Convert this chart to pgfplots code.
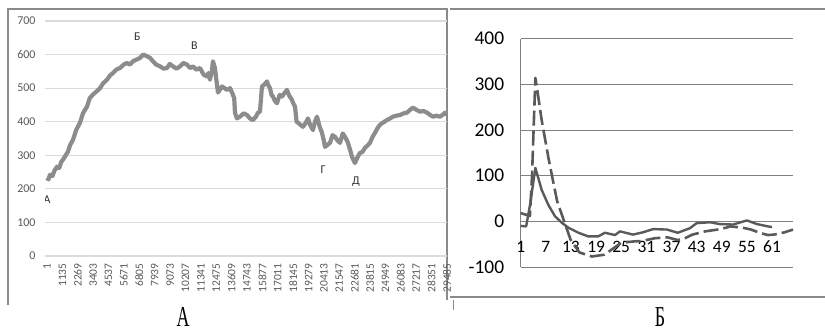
\documentclass[border=0pt]{standalone}
\usepackage{graphicx}
\usepackage{pgfplots}
\pgfplotsset{compat=1.18}
\usepackage{fontspec}
\setmainfont{Carlito}
\newfontfamily\serifcyr{Liberation Serif}
\definecolor{leftline}{HTML}{8C8C8C}
\definecolor{darkline}{HTML}{5A5A5A}
\definecolor{ticktext}{HTML}{595959}
\definecolor{framecol}{HTML}{8A8A8A}

\pgfplotstableread{
x y
1 233
110 228
222 242
400 238
560 255
738 266
900 262
1050 280
1180 287
1350 298
1549 311
1700 330
1917 346
2150 375
2433 397
2650 425
2949 445
3150 470
3391 481
3650 490
3907 500
4150 515
4423 525
4650 538
4865 545
5100 555
5381 560
5650 570
5897 575
6100 570
6339 580
6600 585
6855 590
7100 600
7371 595
7600 590
7813 580
8050 570
8329 565
8600 558
8845 560
9050 572
9287 565
9550 558
9803 565
10050 575
10319 570
10550 560
10761 565
11000 555
11277 560
11550 540
11793 535
11900 545
12014 525
12150 550
12235 580
12380 560
12530 510
12604 487
12900 505
13267 495
13500 500
13709 480
13800 470
13857 427
14000 410
14225 415
14500 425
14741 420
14950 410
15183 405
15400 415
15552 427
15700 430
15846 505
16000 510
16215 520
16300 510
16436 500
16550 480
16657 475
16800 462
16952 455
17150 480
17320 475
17500 485
17689 495
17850 478
18058 465
18150 455
18279 445
18400 400
18500 397
18700 390
18868 385
19050 395
19237 410
19400 390
19605 375
19750 400
19900 415
20100 385
20269 367
20400 345
20490 325
20650 330
20858 337
21050 360
21227 355
21400 345
21595 337
21800 365
21964 355
22100 345
22185 337
22350 315
22480 296
22600 285
22701 277
22900 295
23070 307
23250 310
23439 322
23650 330
23807 337
24000 355
24176 367
24350 380
24545 391
24800 398
25061 405
25300 410
25503 415
25750 418
26019 420
26300 425
26535 427
26750 435
26977 442
27250 435
27493 430
27750 432
28009 427
28250 420
28451 415
28700 418
28967 415
29150 420
29335 427
29485 420
}\leftdata

\pgfplotstableread{
x y
1 -10
2.3 -11
3.3 40
4.5 117
6 69
7.6 36
9.2 11
10.8 -3
12.4 -14
14.8 -25
17.1 -33
19.5 -33
21.1 -25
23.5 -30
24.7 -22
27.8 -29
30.2 -24
32.6 -17
35.9 -18
38.5 -25
41.4 -15
43 -4
46.2 -2
48.5 -6
51.7 -7
55 2
57.4 -6
60.5 -12
61 -12
}\solidseries

\pgfplotstableread{
x y
1 18
3.2 12
3.7 100
4.5 314
5 285
6 222
7.7 135
9.7 44
12.9 -40
15 -68
18 -77
21 -73
23 -60
25 -47
28 -44
30 -43
33 -37
36 -35
38.5 -41
40 -38
42 -29
45 -22
48 -18
50 -14
51 -11
54 -14
56 -18
58 -25
60 -30
61.5 -29
64 -24
66 -18
}\dashedseries

\begin{document}
\begin{tikzpicture}
\useasboundingbox (0bp,0bp) rectangle (825bp,333bp);
\draw[framecol, line width=1.2bp] (8bp,28bp) -- (8bp,324bp) -- (447bp,324bp) -- (447bp,33bp);
\draw[framecol, line width=1.2bp] (450bp,324bp) -- (825bp,324bp);
\draw[framecol, line width=1.2bp] (450bp,36bp) -- (825bp,36bp);
\draw[framecol, line width=1bp] (453bp,33bp) -- (453bp,23bp);

\begin{axis}[
  at={(45bp,77bp)}, anchor=south west,
  scale only axis, width=402bp, height=235bp,
  xmin=-146, xmax=29485, ymin=0, ymax=700,
  scaled x ticks=false,
  ytick={0,100,200,300,400,500,600,700},
  xtick={1,1135,2269,3403,4537,5671,6805,7939,9073,10207,11341,12475,13609,14743,15877,17011,18145,19279,20413,21547,22681,23815,24949,26083,27217,28351,29485},
  xticklabels={1,1135,2269,3403,4537,5671,6805,7939,9073,10207,11341,12475,13609,14743,15877,17011,18145,19279,20413,21547,22681,23815,24949,26083,27217,28351,29485},
  ymajorgrids, major grid style={draw=gray!28, line width=1.1bp},
  axis line style={draw=none}, tick style={draw=none},
  major tick length=0pt,
  /pgf/number format/assume math mode=true,
  yticklabel style={font=\fontsize{12}{12}\selectfont, text=ticktext, anchor=east, xshift=-6bp},
  xticklabel style={font=\fontsize{11.5}{11.5}\selectfont, text=ticktext, rotate=90, anchor=east, xshift=-4bp},
  clip=true,
]
\addplot[leftline, line width=4.2bp, line join=round] table[x=x,y=y] {\leftdata};
\node[font=\fontsize{12}{12}\selectfont, text=black!80] at (axis cs:1,167) {А};
\node[font=\fontsize{12}{12}\selectfont, text=black!80] at (axis cs:6655,654) {Б};
\node[font=\fontsize{12}{12}\selectfont, text=black!80] at (axis cs:10860,627) {В};
\node[font=\fontsize{12}{12}\selectfont, text=black!80] at (axis cs:20350,257) {Г};
\node[font=\fontsize{12}{12}\selectfont, text=black!80] at (axis cs:22780,221) {Д};
\end{axis}

\begin{axis}[
  at={(520.7bp,66bp)}, anchor=south west,
  scale only axis, width=272.3bp, height=228.3bp,
  xmin=1, xmax=66, ymin=-100, ymax=400,
  ytick={-100,0,100,200,300,400},
  xtick={1,7,13,19,25,31,37,43,49,55,61},
  axis x line=middle, axis y line=left,
  hide obscured x ticks=false, hide obscured y ticks=false,
  axis line style={-, draw=gray, line width=0.9bp},
  ymajorgrids, major grid style={draw=gray, line width=0.9bp},
  tick style={draw=none}, major tick length=0pt,
  /pgf/number format/assume math mode=true,
  yticklabel style={font=\fontsize{19.5}{19.5}\selectfont, text=black, anchor=east, xshift=-13bp},
  xticklabel style={font=\fontsize{17.5}{17.5}\selectfont, text=black, anchor=north, yshift=-16bp},
  clip=false,
]
\addplot[darkline, line width=2.6bp, dash pattern=on 15bp off 5bp, line join=round] table[x=x,y=y] {\dashedseries};
\addplot[darkline, line width=2.4bp, line join=round] table[x=x,y=y] {\solidseries};
\end{axis}

\node[anchor=base, inner sep=0pt] at (183bp,7bp) {\scalebox{0.62}[1]{\serifcyr\fontsize{29}{29}\selectfont А}};
\node[anchor=base, inner sep=0pt] at (660bp,7bp) {\scalebox{0.62}[1]{\serifcyr\fontsize{29}{29}\selectfont Б}};
\end{tikzpicture}
\end{document}
